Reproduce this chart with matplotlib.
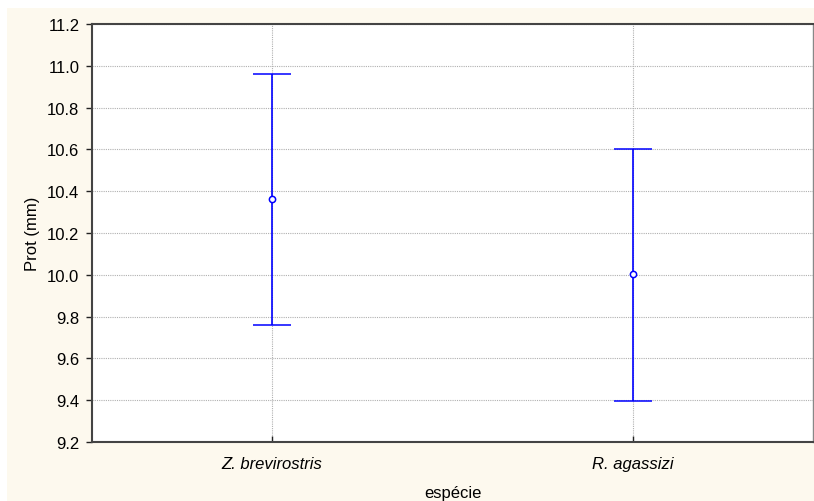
import numpy as np
import matplotlib
matplotlib.use('Agg')
import matplotlib.pyplot as plt
from matplotlib.patches import Rectangle

species = ["Z. brevirostris", "R. agassizi"]
means = [10.363, 10.004]
upper = [10.962, 10.603]
lower = [9.760, 9.396]
yticks = [9.2, 9.4, 9.6, 9.8, 10.0, 10.2, 10.4, 10.6, 10.8, 11.0, 11.2]

plt.rcParams['font.family'] = ['Liberation Sans', 'DejaVu Sans']

fig = plt.figure(figsize=(8.14, 5.02), dpi=100, facecolor='white')
# cream background panel
fig.patches.append(Rectangle((7/814, 0), 1, (502-9)/502, transform=fig.transFigure,
                             facecolor='#fdf9ee', edgecolor='none', zorder=-1))
ax = fig.add_axes([92/814, 59/502, 721/814, 418/502])
ax.set_facecolor('white')

x = np.arange(len(species))
m = np.array(means)
err = [m - np.array(lower), np.array(upper) - m]
ax.errorbar(x, m, yerr=err, fmt='o', color='#0000ff', ecolor='#0000ff', elinewidth=1.2,
            capsize=13.5, capthick=1.2, markersize=4.5, markerfacecolor='white',
            markeredgecolor='#0000ff', markeredgewidth=1.1, zorder=3)

ax.set_xlim(-0.5, 1.5)
ax.set_ylim(9.2, 11.2)
ax.set_yticks(yticks)
ax.set_yticklabels([f"{v:.1f}" for v in yticks], fontsize=12)
ax.set_xticks(x)
ax.set_xticklabels(species, fontsize=12, style='italic')
ax.grid(True, color='#b0b0b0', linestyle=(0, (1, 1)), linewidth=0.8)
ax.set_axisbelow(True)

ax.tick_params(axis='y', direction='out', length=4, width=1, color='#222222', pad=5)
ax.tick_params(axis='x', direction='in', length=4, width=1, color='#222222', pad=10)
ax.set_ylabel("Prot (mm)", fontsize=12, labelpad=5)
ax.set_xlabel("espécie", fontsize=12, labelpad=10)

for side in ['left', 'bottom', 'top']:
    ax.spines[side].set_color('#444444')
    ax.spines[side].set_linewidth(1.5)
ax.spines['right'].set_color('#888888')
ax.spines['right'].set_linewidth(1)

fig.savefig('out.png', dpi=100)
